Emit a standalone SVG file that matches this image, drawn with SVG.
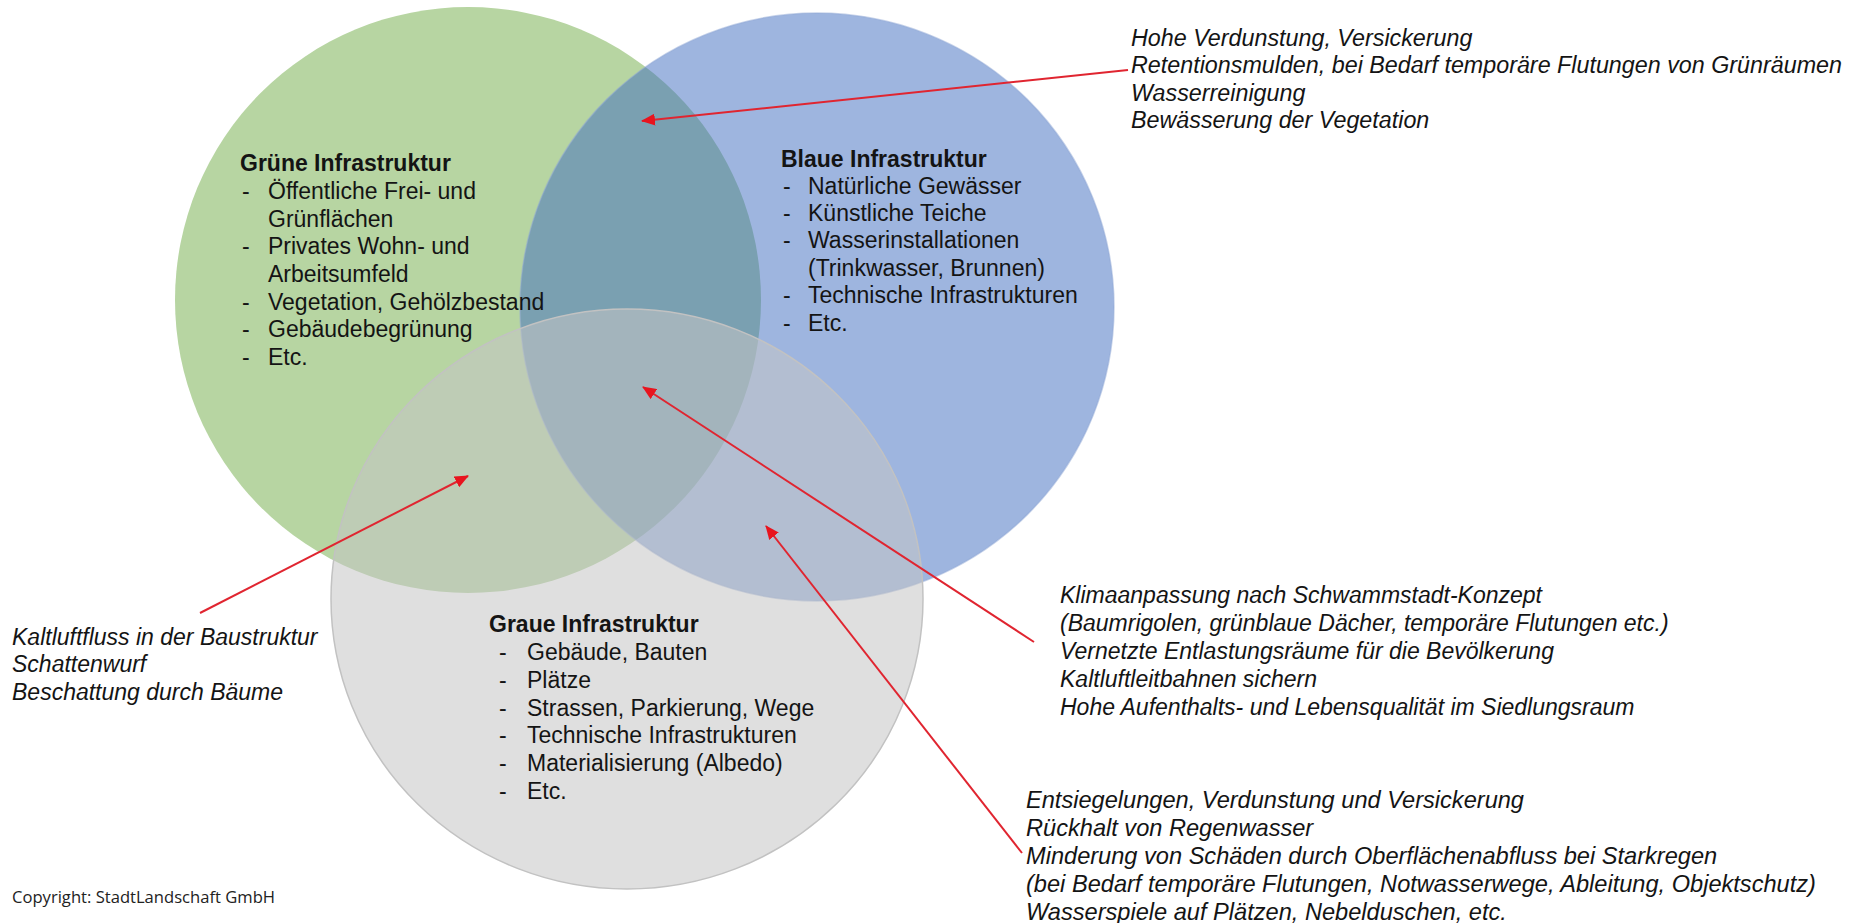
<svg xmlns="http://www.w3.org/2000/svg" width="1860" height="923" viewBox="0 0 1860 923">
<style>
  .t { font-family: "Liberation Sans", Arial, sans-serif; font-size: 23px; fill: #141414; }
  .h { font-weight: bold; }
  .i { font-style: italic; }
  .tr { font-size: 23.3px; }
  .br { font-size: 23.6px; }
  .c { font-family: "Open Sans", "Noto Sans", sans-serif; font-size: 16.6px; fill: #222; }
  .arrow { stroke: #E02530; stroke-width: 2; fill: none; marker-end: url(#ah); }
</style>
<defs>
  <marker id="ah" markerUnits="userSpaceOnUse" markerWidth="14" markerHeight="12" refX="13" refY="6" orient="auto">
    <path d="M0,0 L14,6 L0,12 z" fill="#E8141E"/>
  </marker>
</defs>
<rect width="1860" height="923" fill="#ffffff"/>
<g id="gruene-infrastruktur">
  <circle cx="468" cy="300" r="293" fill="#B7D5A2"/>
</g>
<g id="blaue-infrastruktur">
  <ellipse cx="817" cy="307" rx="297" ry="294" fill="rgb(62,108,192)" fill-opacity="0.5" stroke="#8FA8D6" stroke-opacity="0.5" stroke-width="1.5"/>
</g>
<g id="graue-infrastruktur">
  <ellipse cx="627" cy="599" rx="296" ry="290" fill="#C4C4C4" fill-opacity="0.55" stroke="#C2C2C2" stroke-width="1.5"/>
</g>
<g id="gruene-text">
  <text class="t h" x="240" y="171">Grüne Infrastruktur</text>
  <text class="t" x="242" y="199">-</text><text class="t" x="268" y="199">Öffentliche Frei- und</text>
  <text class="t" x="268" y="227">Grünflächen</text>
  <text class="t" x="242" y="254">-</text><text class="t" x="268" y="254">Privates Wohn- und</text>
  <text class="t" x="268" y="282">Arbeitsumfeld</text>
  <text class="t" x="242" y="310">-</text><text class="t" x="268" y="310">Vegetation, Gehölzbestand</text>
  <text class="t" x="242" y="337">-</text><text class="t" x="268" y="337">Gebäudebegrünung</text>
  <text class="t" x="242" y="365">-</text><text class="t" x="268" y="365">Etc.</text>
</g>
<g id="blaue-text">
  <text class="t h" x="781" y="167">Blaue Infrastruktur</text>
  <text class="t" x="783" y="194">-</text><text class="t" x="808" y="194">Natürliche Gewässer</text>
  <text class="t" x="783" y="221">-</text><text class="t" x="808" y="221">Künstliche Teiche</text>
  <text class="t" x="783" y="248">-</text><text class="t" x="808" y="248">Wasserinstallationen</text>
  <text class="t" x="808" y="276">(Trinkwasser, Brunnen)</text>
  <text class="t" x="783" y="303">-</text><text class="t" x="808" y="303">Technische Infrastrukturen</text>
  <text class="t" x="783" y="331">-</text><text class="t" x="808" y="331">Etc.</text>
</g>
<g id="graue-text">
  <text class="t h" x="489" y="632">Graue Infrastruktur</text>
  <text class="t" x="499" y="660">-</text><text class="t" x="527" y="660">Gebäude, Bauten</text>
  <text class="t" x="499" y="688">-</text><text class="t" x="527" y="688">Plätze</text>
  <text class="t" x="499" y="716">-</text><text class="t" x="527" y="716">Strassen, Parkierung, Wege</text>
  <text class="t" x="499" y="743">-</text><text class="t" x="527" y="743">Technische Infrastrukturen</text>
  <text class="t" x="499" y="771">-</text><text class="t" x="527" y="771">Materialisierung (Albedo)</text>
  <text class="t" x="499" y="799">-</text><text class="t" x="527" y="799">Etc.</text>
</g>
<g id="note-gruen-blau">
  <text class="t i tr" x="1131" y="46">Hohe Verdunstung, Versickerung</text>
  <text class="t i tr" x="1131" y="73">Retentionsmulden, bei Bedarf temporäre Flutungen von Grünräumen</text>
  <text class="t i tr" x="1131" y="101">Wasserreinigung</text>
  <text class="t i tr" x="1131" y="128">Bewässerung der Vegetation</text>
</g>
<g id="note-alle">
  <text class="t i" x="1060" y="603">Klimaanpassung nach Schwammstadt-Konzept</text>
  <text class="t i" x="1060" y="631">(Baumrigolen, grünblaue Dächer, temporäre Flutungen etc.)</text>
  <text class="t i" x="1060" y="659">Vernetzte Entlastungsräume für die Bevölkerung</text>
  <text class="t i" x="1060" y="687">Kaltluftleitbahnen sichern</text>
  <text class="t i" x="1060" y="715">Hohe Aufenthalts- und Lebensqualität im Siedlungsraum</text>
</g>
<g id="note-grau-blau">
  <text class="t i br" x="1026" y="808">Entsiegelungen, Verdunstung und Versickerung</text>
  <text class="t i br" x="1026" y="836">Rückhalt von Regenwasser</text>
  <text class="t i br" x="1026" y="864">Minderung von Schäden durch Oberflächenabfluss bei Starkregen</text>
  <text class="t i br" x="1026" y="892">(bei Bedarf temporäre Flutungen, Notwasserwege, Ableitung, Objektschutz)</text>
  <text class="t i br" x="1026" y="920">Wasserspiele auf Plätzen, Nebelduschen, etc.</text>
</g>
<g id="note-grau-gruen">
  <text class="t i" x="12" y="645">Kaltluftfluss in der Baustruktur</text>
  <text class="t i" x="12" y="672">Schattenwurf</text>
  <text class="t i" x="12" y="700">Beschattung durch Bäume</text>
</g>
<g id="copyright">
  <text class="c" x="12" y="903">Copyright: StadtLandschaft GmbH</text>
</g>
<g id="connectors">
  <line class="arrow" x1="1128" y1="70" x2="642" y2="121"/>
  <line class="arrow" x1="1034" y1="642" x2="643" y2="387"/>
  <line class="arrow" x1="200" y1="613" x2="468" y2="476"/>
  <line class="arrow" x1="1022" y1="853" x2="766" y2="526"/>
</g>
</svg>
